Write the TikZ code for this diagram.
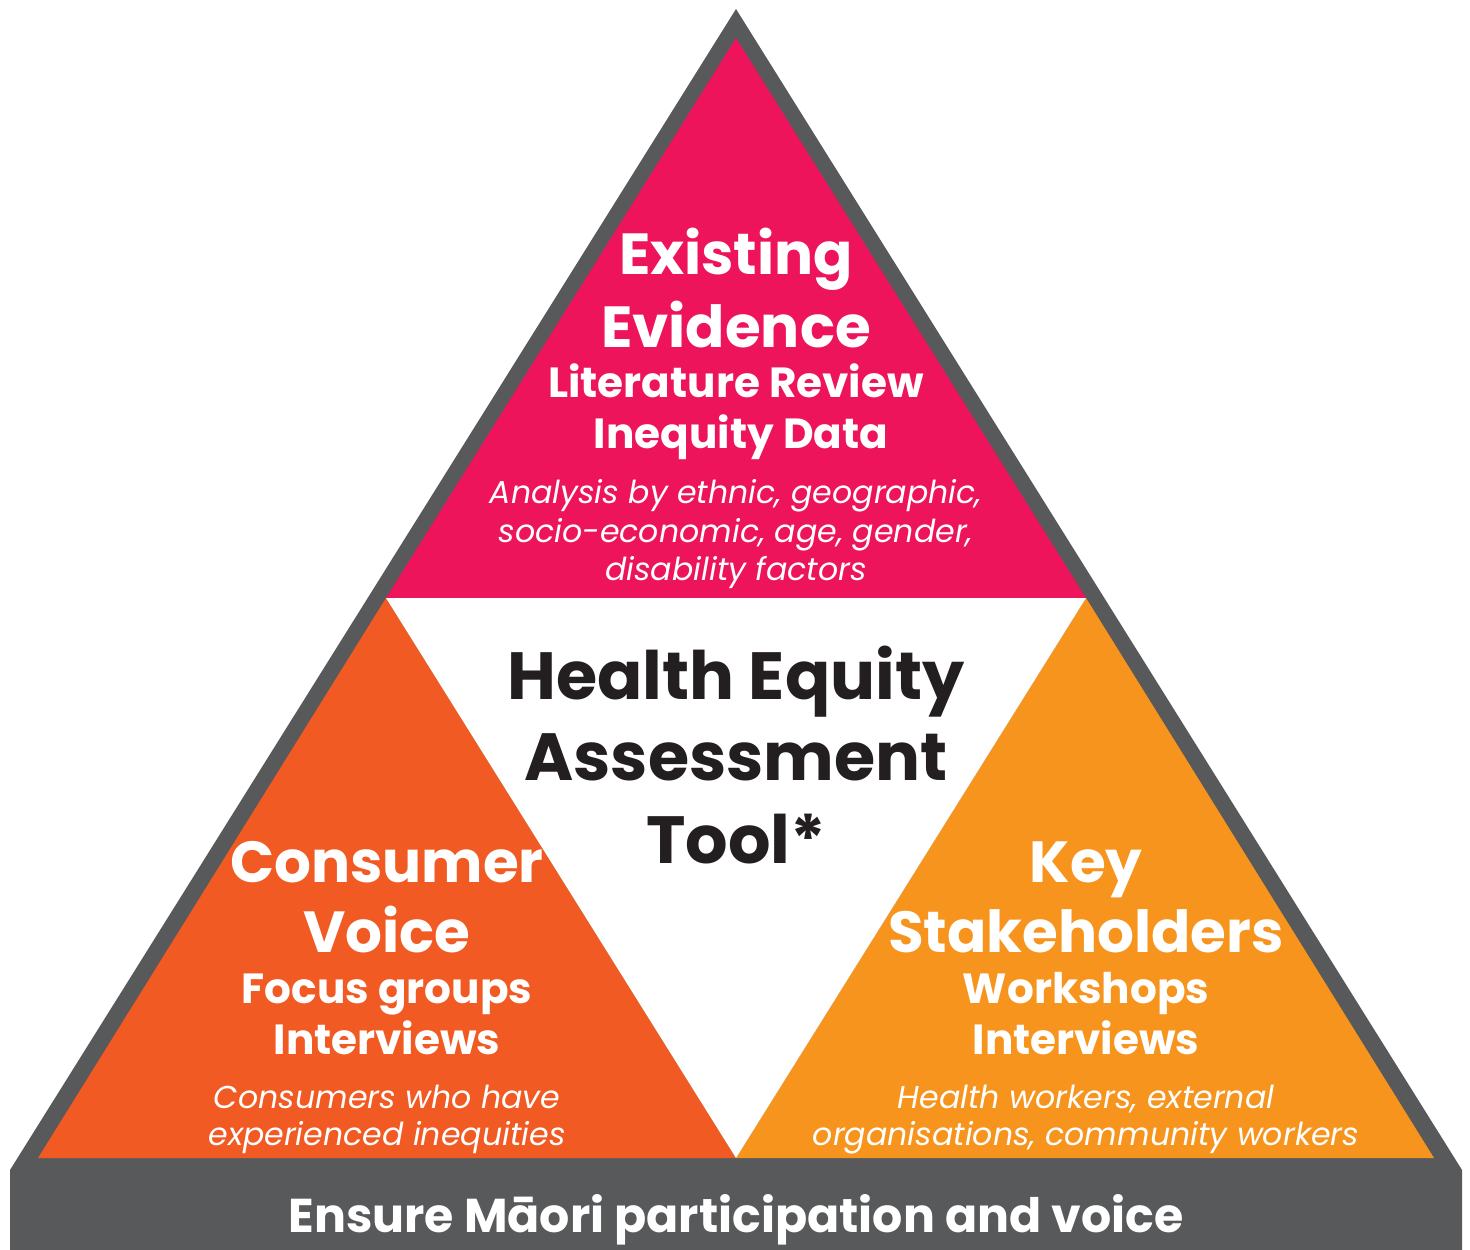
\documentclass[tikz,border=0pt]{standalone}
\usepackage{fontspec}
\setmainfont{Poppins}
\definecolor{rim}{HTML}{58595B}
\definecolor{evid}{HTML}{ED145B}
\definecolor{cons}{HTML}{F15A22}
\definecolor{stake}{HTML}{F7941D}
\definecolor{ink}{HTML}{231F20}
\tikzset{
  head/.style={anchor=base, text=white, font=\fontsize{33}{33}\selectfont\bfseries},
  sub/.style={anchor=base, text=white, font=\fontsize{24}{24}\selectfont\bfseries},
  note/.style={anchor=base, text=white, font=\fontsize{18}{18}\selectfont\itshape},
  hub/.style={anchor=base, text=ink, font=\fontsize{38}{38}\selectfont\bfseries}
}
\begin{document}
\begin{tikzpicture}[x=0.02cm, y=-0.02cm]
\useasboundingbox (0,0) rectangle (1470,1250);
% grey frame and base bar
\fill[rim] (736,9) -- (1462,1170) -- (1462,1250) -- (10,1250) -- (10,1170) -- cycle;
% three coloured triangles and the white middle one
\fill[evid] (736,38) -- (1086,598) -- (386,598) -- cycle;
\fill[cons] (386,598) -- (736,1158) -- (38,1158) -- cycle;
\fill[stake] (1086,598) -- (1434,1158) -- (736,1158) -- cycle;
\fill[white] (386,598) -- (1086,598) -- (736,1158) -- cycle;

% existing evidence
\node[head] (ex1) at (736,275) {Existing};
\node[head] (ex2) at (736,347) {Evidence};
\node[sub] (ex3) at (736,397) {Literature Review};
\node[sub] (ex4) at (741,448) {Inequity Data};
\node[note] (ex5) at (736,503) {Analysis by ethnic, geographic,};
\node[note] (ex6) at (736,542) {socio-economic, age, gender,};
\node[note] (ex7) at (736,580) {disability factors};

% centre
\node[hub] (hea1) at (736,699) {Health Equity};
\node[hub] (hea2) at (736,780) {Assessment};
\node[hub] (hea3) at (736,863) {Tool*};

% consumer voice
\node[head] (cv1) at (387,882) {Consumer};
\node[head] (cv2) at (387,952) {Voice};
\node[sub] (cv3) at (387,1003) {Focus groups};
\node[sub] (cv4) at (387,1054) {Interviews};
\node[note] (cv5) at (387,1108) {Consumers who have};
\node[note] (cv6) at (387,1145) {experienced inequities};

% key stakeholders
\node[head] (ks1) at (1086,882) {Key};
\node[head] (ks2) at (1086,952) {Stakeholders};
\node[sub] (ks3) at (1086,1003) {Workshops};
\node[sub] (ks4) at (1086,1054) {Interviews};
\node[note] (ks5) at (1086,1108) {Health workers, external};
\node[note] (ks6) at (1086,1145) {organisations, community workers};

% base bar
\node[sub, font=\fontsize{27}{27}\selectfont\bfseries] (base) at (736,1232) {Ensure Māori participation and voice};
\end{tikzpicture}
\end{document}
